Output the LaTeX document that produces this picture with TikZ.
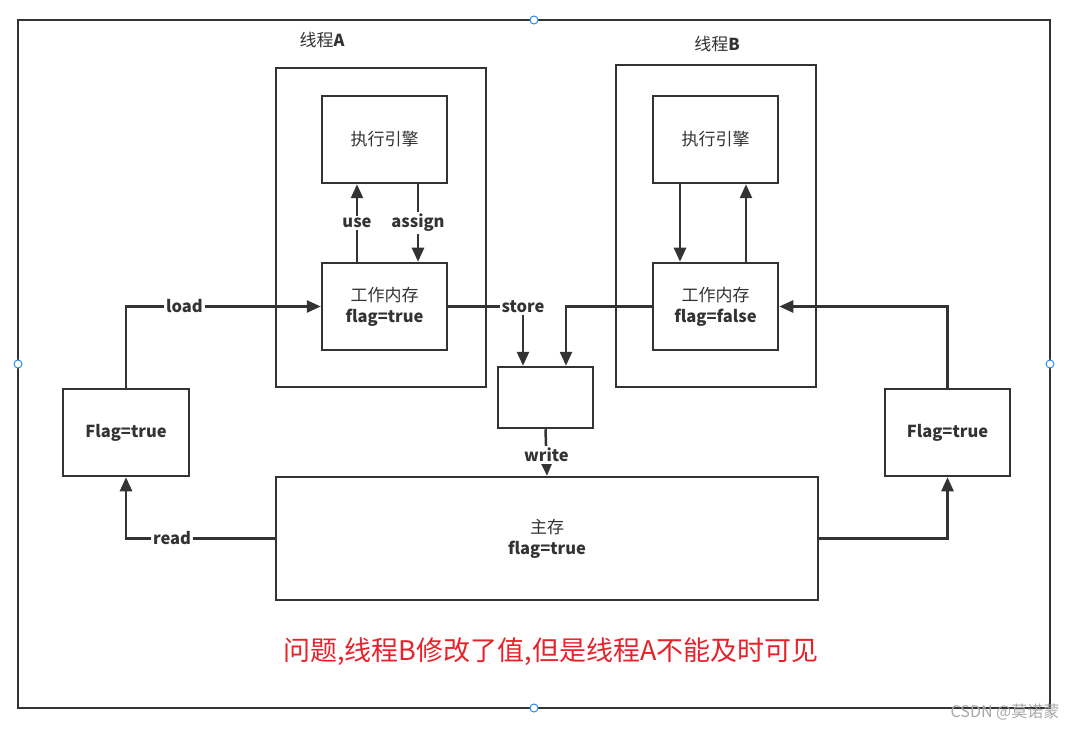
\documentclass[tikz,border=0pt]{standalone}
\usepackage{fontspec}
\setmainfont{Noto Sans CJK SC}
\usetikzlibrary{arrows.meta}
\definecolor{linec}{HTML}{333333}
\definecolor{warnc}{HTML}{E8222A}
\definecolor{handlec}{HTML}{2D8CF0}
\definecolor{markc}{HTML}{A8A8A8}
\tikzset{
  box/.style={draw=linec, line width=2.5pt, inner sep=0pt, align=center, text=linec,
    font=\fontsize{17}{21}\selectfont},
  conn/.style={draw=linec, line width=2.5pt},
  arr/.style={conn, -{Triangle[length=14pt,width=12pt]}},
  lbl/.style={fill=white, inner sep=2pt, text=linec, font=\bfseries\fontsize{16.5}{20}\selectfont},
  handle/.style={circle, draw=handlec, fill=white, line width=1pt, minimum size=8pt, inner sep=0pt}
}
\newcommand{\bl}[1]{{\bfseries\fontsize{16.5}{20}\selectfont #1}}

\begin{document}
\begin{tikzpicture}[x=1pt,y=-1pt]
\useasboundingbox (0,0) rectangle (1087,730);
\draw[conn] (18,20) rectangle (1050,708);
% selection handles
\node[handle] (hT) at (534,20) {};
\node[handle] (hB) at (534,708) {};
\node[handle] (hL) at (18,364) {};
\node[handle] (hR) at (1050,364) {};

% threads
\node[box, minimum width=210pt, minimum height=319pt] (thrA) at (381,227.5) {};
\node[box, minimum width=200pt, minimum height=322pt] (thrB) at (716,226) {};
\node[text=linec, font=\fontsize{17}{21}\selectfont] (nameA) at (322,40) {线程\bl{A}};
\node[text=linec, font=\fontsize{17}{21}\selectfont] (nameB) at (717,44) {线程\bl{B}};

\node[box, minimum width=125pt, minimum height=87pt] (engA) at (384.5,139.5) {执行引擎};
\node[box, minimum width=125pt, minimum height=87pt] (memA) at (384.5,306.5) {工作内存\\\bl{flag=true}};
\node[box, minimum width=125pt, minimum height=87pt] (engB) at (715.5,139.5) {执行引擎};
\node[box, minimum width=125pt, minimum height=87pt] (memB) at (715.5,306.5) {工作内存\\\bl{flag=false}};

\node[box, minimum width=95pt, minimum height=61pt] (buf) at (545.5,397.5) {};
\node[box, minimum width=542pt, minimum height=123pt] (main) at (547,538.5) {主存\\\bl{flag=true}};
\node[box, minimum width=126pt, minimum height=87pt] (flagL) at (126,432.5) {\bl{Flag=true}};
\node[box, minimum width=125pt, minimum height=87pt] (flagR) at (947.5,432.5) {\bl{Flag=true}};

% inside thread A
\draw[arr] ([xshift=-27.5pt]memA.north) -- node[lbl]{use} ([xshift=-27.5pt]engA.south);
\draw[arr] ([xshift=33.5pt]engA.south) -- node[lbl]{assign} ([xshift=33.5pt]memA.north);
% inside thread B
\draw[arr] ([xshift=-35.5pt]engB.south) -- ([xshift=-35.5pt]memB.north);
\draw[arr] ([xshift=30.5pt]memB.north) -- ([xshift=30.5pt]engB.south);

% store / write
\draw[arr] (memA.east) -| node[lbl, pos=0.5]{store} ([xshift=-22.5pt]buf.north);
\draw[arr] (memB.west) -| ([xshift=20.5pt]buf.north);
\draw[arr] (buf.south) -- node[lbl, pos=0.55]{write} (main.north);

% read / load
\draw[arr] (main.west) -| node[lbl, pos=0.345]{read} (flagL.south);
\draw[arr] (flagL.north) |- node[lbl, pos=0.65]{load} (memA.west);
\draw[arr] (main.east) -| (flagR.south);
\draw[arr] (flagR.north) |- (memB.east);

\node[text=warnc, font=\fontsize{27}{32}\selectfont] (issue) at (551,652) {问题,线程B修改了值,但是线程A不能及时可见};
\node[text=markc, font=\fontsize{16}{19}\selectfont] (mark) at (1005,712) {CSDN @莫诺蒙};
\end{tikzpicture}
\end{document}
